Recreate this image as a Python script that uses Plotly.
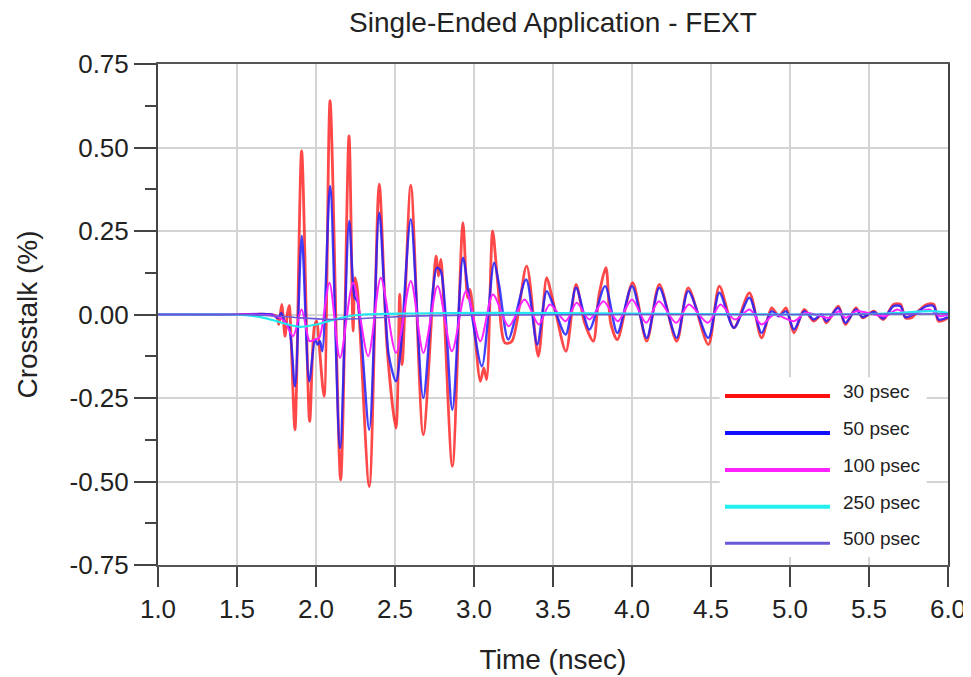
import plotly.graph_objects as go

# ---------------- data ----------------
t_30 = [1.0, 1.5, 1.70, 1.75, 1.765, 1.783, 1.804, 1.818, 1.831, 1.842, 1.867, 1.909, 1.960,
        1.99, 2.005, 2.02, 2.051, 2.089, 2.156, 2.209, 2.235, 2.247, 2.262, 2.337, 2.40,
        2.45, 2.506, 2.53, 2.545, 2.60, 2.679, 2.76, 2.775, 2.79, 2.863, 2.93, 2.96, 2.975,
        3.04, 3.062, 3.08, 3.118, 3.15, 3.196, 3.24, 3.333, 3.407, 3.46, 3.49, 3.52, 3.582,
        3.646, 3.70, 3.755, 3.79, 3.835, 3.865, 3.907, 4.004, 4.093, 4.173, 4.283, 4.356,
        4.483, 4.553, 4.645, 4.743, 4.82, 4.884, 4.93, 4.975, 5.025, 5.09, 5.15, 5.20, 5.23,
        5.306, 5.35, 5.418, 5.46, 5.53, 5.59, 5.655, 5.70, 5.73, 5.77, 5.80, 5.865, 5.91,
        5.94, 6.0]
v_30 = [0.0, 0.0, 0.0, -0.005, -0.03, 0.03, -0.065, 0.0, 0.027, -0.07, -0.345, 0.49, -0.32,
        -0.035, -0.02, -0.09, -0.245, 0.64, -0.495, 0.535, -0.05, 0.11, 0.075, -0.515, 0.39,
        -0.10, -0.34, 0.06, -0.15, 0.387, -0.36, 0.175, 0.115, 0.165, -0.455, 0.275, 0.05, 0.075,
        -0.20, -0.16, -0.195, 0.25, 0.095, -0.085, -0.08, 0.145, -0.125, 0.11, 0.06, 0.0, -0.11,
        0.09, -0.025, -0.08, 0.055, 0.14, -0.025, -0.075, 0.095, -0.08, 0.09, -0.08, 0.08,
        -0.09, 0.085, -0.04, 0.065, -0.07, 0.02, -0.005, 0.02, -0.055, 0.015, -0.02, 0.0, -0.025,
        0.025, -0.03, 0.02, -0.01, 0.01, -0.015, 0.03, 0.03, -0.01, -0.01, 0.005, 0.03, 0.03,
        -0.02, -0.01]

t_50 = [1.0, 1.5, 1.72, 1.76, 1.78, 1.80, 1.83, 1.867, 1.91, 1.957, 1.994, 2.01, 2.025, 2.04,
        2.089, 2.152, 2.21, 2.245, 2.262, 2.337, 2.40, 2.46, 2.506, 2.535, 2.60, 2.679, 2.765,
        2.79, 2.863, 2.93, 2.97, 3.05, 3.127, 3.16, 3.217, 3.33, 3.40, 3.46, 3.50, 3.58, 3.646,
        3.73, 3.83, 3.907, 4.0, 4.093, 4.173, 4.283, 4.356, 4.483, 4.553, 4.645, 4.743, 4.82,
        4.884, 4.93, 4.975, 5.025, 5.09, 5.15, 5.20, 5.23, 5.306, 5.35, 5.418, 5.46, 5.53, 5.59,
        5.655, 5.70, 5.73, 5.80, 5.865, 5.91, 5.94, 6.0]
v_50 = [0.0, 0.0, 0.0, -0.01, 0.005, -0.02, -0.04, -0.215, 0.235, -0.20, -0.075, -0.09, -0.08,
        -0.11, 0.385, -0.40, 0.28, 0.05, 0.04, -0.345, 0.305, -0.12, -0.20, -0.11, 0.285, -0.25,
        0.14, 0.13, -0.285, 0.17, 0.05, -0.155, 0.155, 0.085, -0.075, 0.105, -0.09, 0.07, 0.03,
        -0.06, 0.08, -0.045, 0.085, -0.055, 0.085, -0.07, 0.08, -0.07, 0.07, -0.07, 0.065, -0.04,
        0.05, -0.055, 0.01, -0.005, 0.01, -0.045, 0.01, -0.015, 0.0, -0.02, 0.02, -0.025, 0.015,
        -0.008, 0.008, -0.012, 0.025, 0.025, -0.008, 0.005, 0.025, 0.025, -0.015, -0.008]

t_100 = [1.0, 1.6, 1.75, 1.80, 1.855, 1.909, 1.96, 1.99, 2.02, 2.085, 2.152, 2.235, 2.33, 2.41,
         2.506, 2.60, 2.68, 2.77, 2.86, 2.95, 3.04, 3.12, 3.22, 3.32, 3.41, 3.48, 3.58, 3.65,
         3.73, 3.82, 3.91, 4.0, 4.09, 4.17, 4.28, 4.36, 4.48, 4.56, 4.65, 4.745, 4.82, 4.90,
         5.025, 5.10, 5.25, 5.31, 5.35, 5.42, 5.60, 5.68, 5.75, 5.88, 5.95, 6.0]
v_100 = [0.0, 0.0, -0.005, -0.02, -0.065, 0.015, -0.08, -0.075, -0.07, 0.095, -0.13, 0.095,
         -0.125, 0.11, -0.115, 0.10, -0.115, 0.085, -0.11, 0.07, -0.08, 0.06, -0.035, 0.045,
         -0.03, 0.03, -0.02, 0.035, -0.015, 0.04, -0.02, 0.045, -0.025, 0.04, -0.025, 0.03,
         -0.025, 0.03, -0.015, 0.015, -0.03, 0.0, -0.02, 0.005, -0.01, 0.01, -0.01, 0.01,
         -0.005, 0.015, 0.0, 0.015, -0.005, 0.0]

t_250 = [1.0, 1.45, 1.55, 1.65, 1.75, 1.85, 1.90, 2.0, 2.1, 2.2, 2.3, 2.6, 3.0, 4.0, 5.0, 5.6,
         5.9, 6.0]
v_250 = [0.0, 0.0, -0.002, -0.008, -0.02, -0.033, -0.037, -0.03, -0.017, -0.006, 0.0, 0.003,
         0.005, 0.003, 0.0, 0.003, 0.01, 0.005]

t_500 = [1.0, 1.5, 1.7, 1.9, 2.1, 2.3, 2.6, 3.0, 4.0, 5.0, 6.0]
v_500 = [0.0, 0.0, -0.003, -0.01, -0.015, -0.012, -0.005, -0.002, 0.0, 0.0, 0.002]

series_names = ["30 psec", "50 psec", "100 psec", "250 psec", "500 psec"]
x_ticks = [1.0, 1.5, 2.0, 2.5, 3.0, 3.5, 4.0, 4.5, 5.0, 5.5, 6.0]
y_ticks = [0.75, 0.50, 0.25, 0.00, -0.25, -0.50, -0.75]

# ---------------- styles ----------------
colors = ["rgba(255,20,20,0.78)", "rgba(30,30,255,0.85)", "#ff22ff", "#22e8f0", "#6a5ad8"]
widths = [2.8, 2.4, 2.0, 2.2, 1.6]
legend_colors = ["#ff1010", "#1010ff", "#ff22ff", "#22f0f0", "#6a5ad8"]
legend_widths = [4, 4, 4, 4, 3]

FONT = "Arial, Liberation Sans, Helvetica, sans-serif"

fig = go.Figure()
data = [(t_30, v_30), (t_50, v_50), (t_100, v_100), (t_250, v_250), (t_500, v_500)]
for (tx, vy), name, c, w in zip(data, series_names, colors, widths):
    fig.add_trace(go.Scatter(x=tx, y=vy, mode="lines", name=name,
                             line=dict(color=c, width=w, shape="spline", smoothing=0.8),
                             showlegend=False, hoverinfo="x+y+name"))

# custom legend (white box, long line samples, text)
shapes = [dict(type="rect", xref="paper", yref="paper", x0=0.711, x1=0.973, y0=0.016, y1=0.375,
               fillcolor="white", line=dict(width=0), layer="above")]
annotations = []
leg_y = [0.3373, 0.2635, 0.1896, 0.1164, 0.0433]
for name, c, w, yy in zip(series_names, legend_colors, legend_widths, leg_y):
    shapes.append(dict(type="line", xref="paper", yref="paper", x0=0.7177, x1=0.8506,
                       y0=yy, y1=yy, line=dict(color=c, width=w), layer="above"))
    annotations.append(dict(xref="paper", yref="paper", x=0.865, y=yy + 0.009, text=name,
                            showarrow=False, xanchor="left", yanchor="middle",
                            font=dict(family=FONT, size=19, color="#222")))

# the page places the figure 8px from the top-left corner of the window
fig.update_layout(
    width=963, height=669,
    margin=dict(l=150, r=23, t=56, b=112, autoexpand=False),
    paper_bgcolor="white", plot_bgcolor="white",
    font=dict(family=FONT, color="#222"),
    title=dict(text="Single-Ended Application - FEXT", xref="paper", x=0.5, xanchor="center",
               yref="container", y=0.979, yanchor="middle",
               font=dict(family=FONT, size=28, color="#222")),
    shapes=shapes, annotations=annotations,
    showlegend=False,
    xaxis=dict(range=[1.0, 6.0], tickmode="array", tickvals=x_ticks,
               ticktext=[f"{v:.1f}" for v in x_ticks], automargin=False,
               ticks="outside", ticklen=20, tickwidth=1.5, tickcolor="#444",
               showline=True, linecolor="#555", linewidth=2, mirror=True,
               showgrid=True, gridcolor="#d4d4d4", gridwidth=2, zeroline=False,
               tickfont=dict(family=FONT, size=26, color="#222"),
               title=dict(text="Time (nsec)", standoff=26,
                          font=dict(family=FONT, size=28, color="#222"))),
    xaxis2=dict(range=[1.0, 6.0], overlaying="x", side="top", ticks="inside", ticklen=5,
                tickwidth=1, tickcolor="#666", dtick=0.25, tick0=1.0, tickmode="linear",
                automargin=False,
                showticklabels=False, showgrid=False, zeroline=False, showline=False),
    yaxis=dict(range=[-0.75, 0.75], tickmode="array", tickvals=y_ticks,
               ticktext=[f"{v:.2f}" for v in y_ticks], automargin=False,
               ticks="outside", ticklen=22, tickwidth=1.5, tickcolor="#444",
               minor=dict(tickmode="linear", tick0=0.125, dtick=0.25, ticks="outside",
                          ticklen=11, tickwidth=1.5, tickcolor="#444", showgrid=False),
               showline=True, linecolor="#444", linewidth=2, mirror=True,
               showgrid=True, gridcolor="#d4d4d4", gridwidth=2, zeroline=False,
               tickfont=dict(family=FONT, size=26, color="#222"),
               title=dict(text="Crosstalk (%)", standoff=24,
                          font=dict(family=FONT, size=28, color="#222"))),
)

fig.write_html("out.html")
